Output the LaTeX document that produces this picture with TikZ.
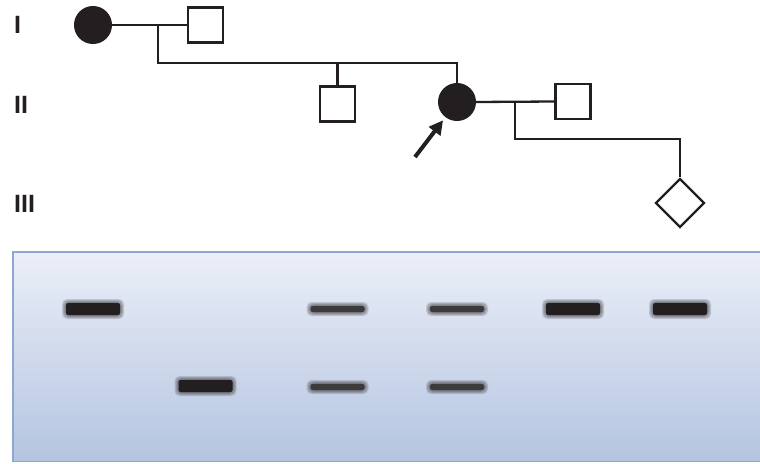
\documentclass[tikz,border=0pt]{standalone}
\usepackage{fontspec}
\setmainfont{Liberation Sans}
\usepackage{tikz}
\usetikzlibrary{arrows.meta, shapes.geometric, calc}
\definecolor{pdInk}{HTML}{231F20}
\definecolor{gelTop}{HTML}{EBEFF8}
\definecolor{gelBottom}{HTML}{B4C4E0}
\definecolor{gelEdge}{HTML}{8CA7D2}
\tikzset{
  pd-female/.style={
    circle, draw=pdInk, fill=pdInk, line width=2pt,
    minimum size=36pt, inner sep=0pt
  },
  pd-male/.style={
    rectangle, draw=pdInk, fill=white, line width=2.3pt,
    minimum size=35pt, inner sep=0pt
  },
  pd-unknown/.style={
    diamond, draw=pdInk, fill=white, line width=2.3pt,
    minimum size=49pt, inner sep=0pt
  },
  pd-line/.style={draw=pdInk, line width=2.3pt},
  pd-gen/.style={anchor=base west, inner sep=0pt,
    font=\bfseries\fontsize{25}{25}\selectfont, text=pdInk},
  pd-proband/.style={-{Triangle[length=14pt,width=14pt]}, line width=4pt, draw=pdInk},
  gel-frame/.style={draw=gelEdge, line width=1.3pt, top color=gelTop, bottom color=gelBottom},
  gel-halo/.style={fill=pdInk, opacity=0.16, rounded corners=5pt},
}

\begin{document}
\begin{tikzpicture}[x=1pt, y=-1pt]
  \useasboundingbox (0,0) rectangle (760,463);

  % generations
  \node[pd-gen] (g1) at (14,33) {I};
  \node[pd-gen] (g2) at (14,113) {II};
  \node[pd-gen] (g3) at (14,212) {III};

  % individuals
  \node[pd-female] (i1) at (93,25) {};
  \node[pd-male] (i2) at (205.5,25) {};
  \node[pd-male] (ii1) at (337.5,104) {};
  \node[pd-female] (ii2) at (457,102) {};
  \node[pd-male] (ii3) at (573,101.5) {};
  \node[pd-unknown] (iii1) at (680,203) {};

  \coordinate (m1) at (158,25);
  \coordinate (s1) at (158,63);
  \coordinate (m2) at (515,102);
  \coordinate (s2) at (515,139);
  \coordinate (pb) at (415,157);

  \draw[pd-line] (i1) -- (i2);
  \draw[pd-line] (m1) -- (s1) -| (ii2);
  \draw[pd-line] (ii1) -- (ii1 |- s1);
  \draw[pd-line] (ii2.east) -- (ii3.west);
  \draw[pd-line] (m2) -- (s2) -| (iii1.north);
  \draw[pd-proband, shorten >=4pt] (pb) -- (ii2);

  % gel
  \draw[gel-frame] (13,252) rectangle (764,461.5);

  \foreach \lane/\by/\bh/\ink in {i1/309/12/100, ii1/309/6/88, ii2/309/6/88, ii3/309/12/100,
                                  iii1/309/12/100, i2/386/12/100, ii1/387/6/88, ii2/387/6/88} {
    \coordinate (b) at (\lane |- 0,\by);
    \foreach \k in {4,3,2,1}
      \fill[gel-halo] ($(b)+(-27-\k,-\bh/2-\k)$) rectangle ($(b)+(27+\k,\bh/2+\k)$);
    \fill[pdInk!\ink, rounded corners=2pt] ($(b)+(-27,-\bh/2)$) rectangle ($(b)+(27,\bh/2)$);
  }
\end{tikzpicture}
\end{document}
